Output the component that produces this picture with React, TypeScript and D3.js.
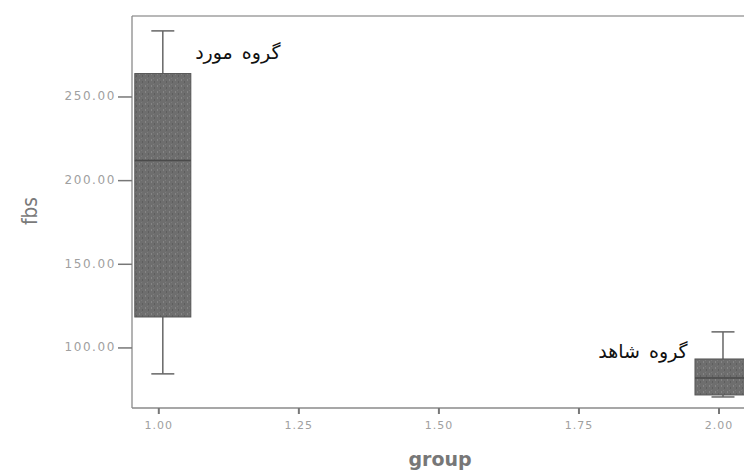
import React from "react";
import * as d3 from "d3";

const groups = [1, 2];
const groupLabels = ["گروه مورد", "گروه شاهد"];
const mins = [84.5, 70.7];
const q1s = [118.5, 71.9];
const medians = [212, 82.1];
const q3s = [264, 93.4];
const maxs = [289.5, 109.6];
const yTicks = [100, 150, 200, 250];
const xTicks = [1.0, 1.25, 1.5, 1.75, 2.0];

const W = 744;
const H = 472;

export default function App() {
  const x = d3.scaleLinear().domain([0.945, 2.05]).range([132, 751]);
  const y = d3.scaleLinear().domain([64.1, 298.4]).range([408, 16]);
  const boxW = x(1.1) - x(1.0);
  const capW = 23;
  const tickShift = -4;
  const [x0, x1] = x.range();
  const [yb, yt] = y.range();
  const axisColor = "#8a8a8a";
  const textColor = "#a0a0a0";

  return (
    <svg
      width={W}
      height={H}
      viewBox={`0 0 ${W} ${H}`}
      style={{ position: "absolute", left: 0, top: 0, background: "#fff" }}
    >
      <defs>
        <pattern id="speck" width="6" height="6" patternUnits="userSpaceOnUse">
          <rect width="6" height="6" fill="#6e6e6e" />
          <rect x="1" y="1" width="1" height="2" fill="#858585" />
          <rect x="4" y="3" width="1" height="2" fill="#5e5e5e" />
          <rect x="3" y="0" width="1" height="1" fill="#7c7c7c" />
        </pattern>
      </defs>
      <rect x={0} y={0} width={W} height={H} fill="#fff" />
      {/* frame */}
      <line x1={x0} x2={x1} y1={yt} y2={yt} stroke="#a0a0a0" strokeWidth={1.5} />
      <line x1={x0} x2={x0} y1={yt} y2={yb} stroke={axisColor} strokeWidth={1.3} />
      <line x1={x0} x2={x1} y1={yb} y2={yb} stroke={axisColor} strokeWidth={1.3} />

      {/* y ticks */}
      {yTicks.map((t) => (
        <g key={t}>
          <line x1={x0 - 14} x2={x0} y1={y(t)} y2={y(t)} stroke="#777" strokeWidth={1.5} />
          <text
            x={x0 - 16}
            y={y(t)}
            textAnchor="end"
            dominantBaseline="middle"
            fontFamily="DejaVu Sans"
            fontSize={12}
            fill={textColor}
            letterSpacing={1.6}
          >
            {d3.format(".2f")(t)}
          </text>
        </g>
      ))}

      {/* x ticks */}
      {xTicks.map((t) => (
        <g key={t}>
          <line x1={x(t) + tickShift} x2={x(t) + tickShift} y1={yb} y2={yb + 6} stroke="#777" strokeWidth={2} />
          <text
            x={x(t) + tickShift}
            y={yb + 18}
            textAnchor="middle"
            dominantBaseline="middle"
            fontFamily="DejaVu Sans"
            fontSize={11}
            fill={textColor}
            letterSpacing={1}
          >
            {d3.format(".2f")(t)}
          </text>
        </g>
      ))}

      {/* boxes */}
      {groups.map((g, i) => {
        const cx = x(g);
        return (
          <g key={g}>
            <line x1={cx} x2={cx} y1={y(maxs[i])} y2={y(q3s[i])} stroke="#666" strokeWidth={1.5} />
            <line x1={cx} x2={cx} y1={y(q1s[i])} y2={y(mins[i])} stroke="#666" strokeWidth={1.5} />
            <line x1={cx - capW / 2} x2={cx + capW / 2} y1={y(maxs[i])} y2={y(maxs[i])} stroke="#666" strokeWidth={1.5} />
            <line x1={cx - capW / 2} x2={cx + capW / 2} y1={y(mins[i])} y2={y(mins[i])} stroke="#666" strokeWidth={1.5} />
            <rect
              x={cx - boxW / 2}
              y={y(q3s[i])}
              width={boxW}
              height={y(q1s[i]) - y(q3s[i])}
              fill="url(#speck)"
              stroke="#555"
              strokeWidth={1}
            />
            <line
              x1={cx - boxW / 2}
              x2={cx + boxW / 2}
              y1={y(medians[i])}
              y2={y(medians[i])}
              stroke="#4a4a4a"
              strokeWidth={1.5}
            />
          </g>
        );
      })}

      {/* group annotations */}
      <text
        x={x(groups[0]) + boxW / 2 + 47}
        y={y(276)}
        textAnchor="middle"
        dominantBaseline="middle"
        fontFamily="DejaVu Sans"
        fontSize={19}
        wordSpacing={3}
        fill="#111"
      >
        {groupLabels[0]}
      </text>
      <text
        x={x(groups[1]) - boxW / 2 - 52}
        y={y(97.5)}
        textAnchor="middle"
        dominantBaseline="middle"
        fontFamily="DejaVu Sans"
        fontSize={19}
        wordSpacing={3}
        fill="#111"
      >
        {groupLabels[1]}
      </text>

      {/* axis titles */}
      <text
        transform={`translate(37, ${211}) rotate(-90)`}
        textAnchor="middle"
        fontFamily="DejaVu Sans Condensed, DejaVu Sans"
        fontSize={22}
        fill="#7a7a7a"
        textLength={28}
        lengthAdjust="spacingAndGlyphs"
      >
        fbs
      </text>
      <text
        x={440}
        y={466}
        textAnchor="middle"
        fontFamily="DejaVu Sans"
        fontWeight="bold"
        fontSize={19}
        fill="#777"
      >
        group
      </text>
    </svg>
  );
}
